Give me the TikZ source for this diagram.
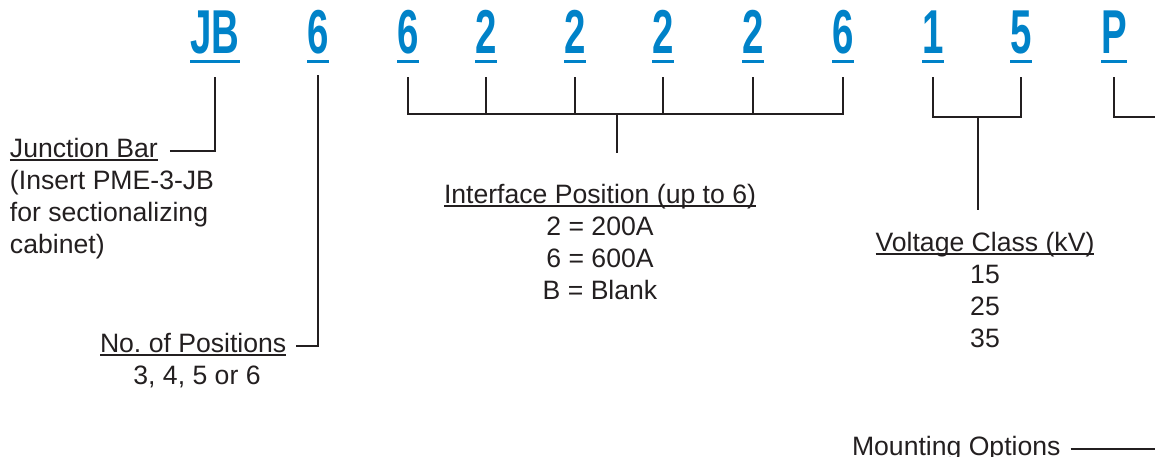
\documentclass[tikz,border=0pt]{standalone}
\usepackage{fontspec}
\setmainfont{Liberation Sans}
\usepackage{graphicx}
\usetikzlibrary{calc}
\frenchspacing

\definecolor{codeblue}{RGB}{0,130,200}
\definecolor{ink}{RGB}{35,31,32}

\newsavebox\codebox
\newcommand\codeul[1]{\sbox\codebox{\scalebox{0.62}[1]{#1}}\rlap{\rule[-5pt]{\wd\codebox}{1.5pt}}\usebox\codebox}
\newcommand\undl[1]{\sbox\codebox{#1}\rlap{\rule[-1.8pt]{\wd\codebox}{0.6pt}}\usebox\codebox}

\begin{document}
\begin{tikzpicture}[x=0.5pt,y=0.5pt,
	code/.style={anchor=base,inner sep=0pt,outer sep=0pt,text=codeblue,font=\bfseries\fontsize{31}{31}\selectfont},
	lbl/.style={anchor=base,inner sep=0pt,outer sep=0pt,text=ink,font=\fontsize{13.3}{16}\selectfont},
	ttl/.style={lbl,text height=9pt,text depth=3pt},
	lnk/.style={draw=ink,line width=1.3pt}]
	\useasboundingbox (0,0) rectangle (1155,-456);
	% part number
	\foreach \n/\x/\t in {jb/215/JB, np/318/6, i1/408/6, i2/486/2, i3/575/2, i4/663/2, i5/753/2, i6/843/6, v1/933/1, v2/1021/5, mt/1114/P}
		\node[code] (\n) at (\x,-53) {\codeul{\t}};
	% labels
	\node[ttl,anchor=base west] (jbt) at (10,-157) {\undl{Junction Bar}};
	\node[lbl,anchor=base west] (jb1) at (10,-189) {(Insert PME-3-JB};
	\node[lbl,anchor=base west] (jb2) at (10,-221) {for sectionalizing};
	\node[lbl,anchor=base west] (jb3) at (10,-253) {cabinet)};
	\node[ttl,anchor=base west] (npt) at (100,-352) {\undl{No. of Positions}};
	\node[lbl] (np1) at (197,-384) {3, 4, 5 or 6};
	\node[ttl] (ipt) at (600,-203) {\undl{Interface Position (up to 6)}};
	\foreach \t [count=\i] in {2 = 200A, 6 = 600A, B = Blank}
		\node[lbl] (ip\i) at (600,{-203-32*\i}) {\t};
	\node[ttl] (vt) at (985,-251) {\undl{Voltage Class (kV)}};
	\foreach \t [count=\i] in {15, 25, 35}
		\node[lbl] (vt\i) at (985,{-251-32*\i}) {\t};
	\node[ttl,anchor=base west] (mot) at (852,-455) {Mounting Options};
	% connectors
	\coordinate (ib) at (617,-114);
	\coordinate (vb) at (978,-117);
	\coordinate (pe) at (1155,-117);
	\coordinate (me) at (1155,-449);
	\draw[lnk,shorten <=6pt,shorten >=7pt] (jbt.east) -| (jb.south);
	\draw[lnk,shorten <=5pt,shorten >=6pt] (npt.east) -| (np.south);
	\foreach \n in {i1,i2,i3,i4,i5,i6}
		\draw[lnk,shorten <=7pt] (\n.south) |- (ib);
	\draw[lnk,shorten >=16pt] (ib) -- (ib |- ipt.north);
	\draw[lnk,shorten <=7pt] (v1.south) |- (vb);
	\draw[lnk,shorten <=7pt] (v2.south) |- (vb);
	\draw[lnk,shorten >=11.5pt] (vb) -- (vb |- vt.north);
	\draw[lnk,shorten <=7pt] (mt.south) |- (pe);
	\draw[lnk,shorten <=5pt] (mot.east) -- (me);
\end{tikzpicture}
\end{document}
